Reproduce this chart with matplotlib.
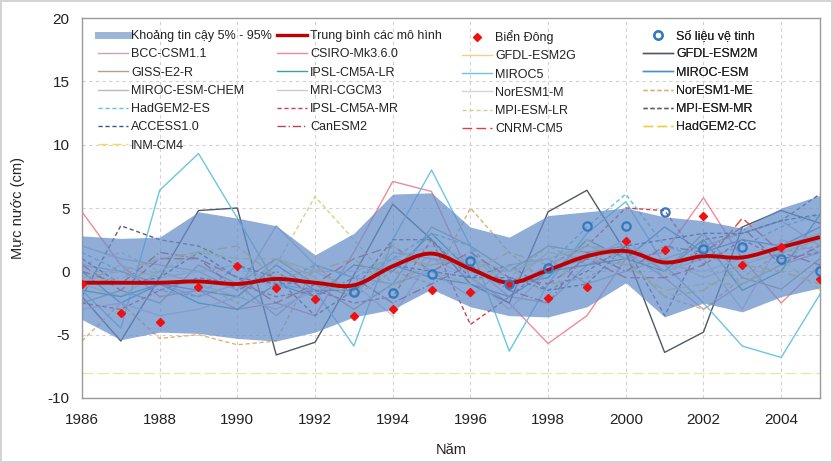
import numpy as np
import matplotlib
matplotlib.use('Agg')
import matplotlib.pyplot as plt
from matplotlib.lines import Line2D
from matplotlib.path import Path
from matplotlib.patches import PathPatch

plt.rcParams['font.family'] = ['Liberation Sans', 'DejaVu Sans']
plt.rcParams['axes.unicode_minus'] = False

years = list(range(1986, 2006))

# 5% - 95% band
band_upper = [2.8, 2.6, 2.7, 4.7, 4.2, 3.6, 1.3, 3.0, 6.1, 6.2,
              3.5, 2.7, 4.4, 4.7, 5.0, 4.3, 4.0, 3.4, 5.0, 6.0]
band_lower = [-3.8, -5.4, -4.8, -4.9, -5.3, -5.5, -4.8, -3.6, -3.0, -1.4,
              -2.8, -3.5, -3.6, -2.8, -0.9, -3.6, -2.5, -3.2, -2.0, -1.3]

# multi-model mean
model_mean = [-0.9, -0.9, -0.9, -0.8, -1.0, -0.6, -0.9, -1.1, 0.4, 1.4,
              0.2, -0.9, 0.1, 1.2, 1.6, 0.7, 1.2, 1.1, 1.9, 2.7]

# observations
bien_dong = [-1.0, -3.3, -4.0, -1.2, 0.4, -1.3, -2.2, -3.5, -3.0, -1.5,
             -1.6, -1.0, -2.1, -1.2, 2.4, 1.7, 4.4, 0.5, 1.9, -0.6]
sat_years = list(range(1993, 2006))
satellite = [-1.6, -1.7, -0.2, 0.8, -1.0, 0.3, 3.6, 3.6, 4.7, 1.8, 1.9, 1.0, 0.0]

# pale line near the bottom of the chart
floor_level = -8.0

model_names = ['BCC-CSM1.1', 'CSIRO-Mk3.6.0', 'GFDL-ESM2G', 'GFDL-ESM2M',
               'GISS-E2-R', 'IPSL-CM5A-LR', 'MIROC5', 'MIROC-ESM',
               'MIROC-ESM-CHEM', 'MRI-CGCM3', 'NorESM1-M', 'NorESM1-ME',
               'HadGEM2-ES', 'IPSL-CM5A-MR', 'MPI-ESM-LR', 'MPI-ESM-MR',
               'ACCESS1.0', 'CanESM2', 'CNRM-CM5', 'HadGEM2-CC', 'INM-CM4']

bcc = [0.5, 0.0, -1.0, -2.0, -1.0, -3.5, -1.0, -2.0, 1.5, 1.0, 0.5, -2.0, -2.5, 0.5, 1.5, -0.5, -3.0, -1.0, 0.5, 1.5]
csiro = [4.7, 0.5, -2.0, -1.5, -3.0, -2.5, -3.5, 1.5, 7.1, 6.3, -0.5, -2.5, -5.7, -3.5, 1.0, 1.5, 5.8, 1.0, -2.5, 0.5]
gfdl_g = [-1.0, -2.0, 0.0, -1.0, -2.0, 1.0, 0.0, -1.5, 1.0, 0.5, 1.0, -1.0, 1.5, 1.0, 0.5, 1.0, -0.5, 0.5, 1.5, 2.5]
gfdl_m = [-2.0, -5.5, -0.5, 4.8, 5.0, -6.6, -5.6, -0.3, 5.3, 2.5, -1.0, -2.5, 4.7, 6.4, 1.5, -6.4, -4.8, 3.5, 4.8, 3.8]
giss = [-2.5, -1.5, -2.5, 0.5, -1.0, 1.0, -1.0, -3.0, -1.0, 3.5, 2.0, 0.0, 2.0, 1.5, 2.0, 0.0, 3.0, -0.5, -1.4, 1.0]
ipsl_lr = [-1.5, -2.0, -1.0, -2.5, -3.0, -1.0, -2.0, 0.5, 0.0, 3.0, 0.0, -1.0, -0.5, 2.5, 1.0, 0.0, 2.5, -1.5, 0.0, 4.5]
miroc5 = [-1.5, -4.5, 6.4, 9.3, 4.2, -1.0, -1.5, -5.9, 2.5, 8.0, 2.0, -6.3, -1.0, 3.0, 5.5, 0.5, -2.5, -5.9, -6.8, -1.8]
miroc_esm = [0.0, -2.5, -1.0, -1.5, -2.0, 0.5, -1.5, -1.5, 0.5, -0.5, -1.0, -2.0, 0.0, 0.5, 1.0, 3.5, 1.5, 2.5, 2.0, 3.5]
miroc_chem = [2.0, 1.0, 0.5, 0.0, -1.5, 3.6, 0.5, -0.5, -1.0, 0.0, -2.0, 0.5, 1.0, -1.0, 0.0, 1.0, 2.0, 3.0, 4.0, 2.0]
mri = [-3.0, -2.5, -3.5, -3.0, -2.0, -3.0, -1.5, -1.0, -3.5, 1.0, -0.5, -3.0, 0.0, 1.0, 2.5, 0.0, 1.0, -3.0, 2.5, 1.5]
noresm_m = [-1.0, 0.5, -0.5, 0.0, 0.5, -1.5, 0.0, 0.0, 1.0, 2.0, 1.0, 0.0, 1.0, 2.0, 1.5, 0.5, 0.0, 1.0, 2.0, 3.0]
noresm_me = [-5.5, -2.5, -5.3, -5.0, -5.8, -5.5, 0.5, -2.0, 0.0, -1.0, 5.0, 1.5, -1.0, -0.5, 1.0, -2.0, -3.0, -0.5, 1.5, 2.0]
hadgem_es = [1.5, 0.0, -1.5, -2.0, 0.5, -1.0, 0.5, -0.5, 1.0, 3.0, 2.0, -1.5, 0.5, 3.5, 6.1, 2.0, 1.0, 2.0, 3.5, 4.5]
ipsl_mr = [-2.5, -3.0, -1.5, -0.5, -1.0, -2.0, -1.5, -2.5, -2.0, 2.5, -4.2, -2.0, 0.5, 2.0, 5.0, 4.8, 0.5, 2.5, 1.0, 1.5]
mpi_lr = [0.5, 1.5, 0.0, -1.0, -2.5, 0.5, 5.9, 2.5, -1.0, 0.5, 1.0, -0.5, 2.0, 0.5, 2.5, -0.5, 2.0, -1.0, 0.5, 3.0]
mpi_mr = [-2.0, 3.6, 2.5, 2.0, 0.5, -0.5, -3.5, -1.5, 2.5, 2.5, -0.5, 0.5, -1.5, 0.0, 2.0, -3.5, 2.5, 3.0, 4.0, 6.1]
access = [1.0, -1.0, -0.5, 1.5, -0.5, -1.0, -0.8, -1.5, 0.5, 0.0, -0.5, -0.5, -1.5, -1.0, 2.0, 2.5, 3.0, 3.0, 4.0, 4.5]
canesm = [0.0, -1.0, 1.5, 1.0, -1.5, 0.0, -2.0, -0.5, -2.5, -1.0, 0.5, -1.5, -2.5, 1.5, 0.0, 2.0, 1.5, 3.5, 0.5, 2.0]
cnrm = [0.5, -1.5, 1.0, 1.0, -0.5, -2.5, -1.0, 1.0, 2.0, 0.0, 1.5, -0.5, -1.0, 1.0, -0.5, -0.5, 0.5, 4.2, 1.5, 0.5]
hadgem_cc = [-0.5, 0.0, 1.0, 1.5, 2.0, -0.5, 0.0, 1.0, -1.5, 1.5, 0.0, 1.5, 0.5, 2.0, 1.0, -2.0, -1.5, 0.5, 0.0, -1.0]
inm = [-1.0, -0.5, 0.0, 1.5, 1.0, 1.0, -0.5, -2.0, 2.0, 0.0, -1.0, 0.5, -2.0, 2.5, 0.5, -1.5, -1.0, -1.0, 1.0, -1.5]

model_values = [bcc, csiro, gfdl_g, gfdl_m, giss, ipsl_lr, miroc5, miroc_esm,
                miroc_chem, mri, noresm_m, noresm_me, hadgem_es, ipsl_mr,
                mpi_lr, mpi_mr, access, canesm, cnrm, hadgem_cc, inm]

model_styles = [
    ('#c9a3bd', '-'), ('#f08a9a', '-'), ('#f2cf8a', '-'), ('#4f5866', '-'),
    ('#a9a58e', '-'), ('#3d9f9f', '-'), ('#6cc5df', '-'), ('#4a8fc6', '-'),
    ('#b8b8c4', '-'), ('#cfc4d8', '-'), ('#d6d6d6', '-'), ('#e0b070', (0, (3, 2))),
    ('#5ec0e2', (0, (3, 2))), ('#cc3d52', (0, (3, 2))), ('#c6d88e', (0, (3, 2))),
    ('#5e5e70', (0, (3, 2))), ('#34589a', (0, (3, 2))), ('#b04658', (0, (6, 2, 1, 2))),
    ('#e2403e', (0, (7, 3))), ('#f0cf3c', (0, (7, 3))), ('#efe05a', (0, (7, 3))),
]

band_color = '#668eca'
mean_color = '#c00000'


def smooth_path(xs, ys):
    """Catmull-Rom style bezier through the points (like a smoothed Excel line)."""
    n = len(xs)
    verts = [(xs[0], ys[0])]
    codes = [Path.MOVETO]
    for i in range(n - 1):
        p0 = max(i - 1, 0)
        p3 = min(i + 2, n - 1)
        c1 = (xs[i] + (xs[i + 1] - xs[p0]) / 6.0, ys[i] + (ys[i + 1] - ys[p0]) / 6.0)
        c2 = (xs[i + 1] - (xs[p3] - xs[i]) / 6.0, ys[i + 1] - (ys[p3] - ys[i]) / 6.0)
        verts += [c1, c2, (xs[i + 1], ys[i + 1])]
        codes += [Path.CURVE4] * 3
    return Path(verts, codes)


fig = plt.figure(figsize=(8.33, 4.63), dpi=100)
fig.patch.set_edgecolor('#d4d4d4')
fig.patch.set_linewidth(1.5)
ax = fig.add_axes([0.0984, 0.1404, 0.886, 0.8207])

handles = {}
for name, vals, (col, ls) in zip(model_names, model_values, model_styles):
    ln, = ax.plot(years, vals, color=col, linestyle=ls, linewidth=1.0, zorder=2)
    handles[name] = ln

ax.axhline(floor_level, color='#f3e3a6', linewidth=1.0, linestyle=(0, (8, 3)), zorder=2)

ax.fill_between(years, band_lower, band_upper, color=band_color, alpha=0.72,
                linewidth=0, zorder=3)

ax.add_patch(PathPatch(smooth_path(years, model_mean), fill=False,
                       edgecolor=mean_color, linewidth=2.8, zorder=4))

ax.plot(years, bien_dong, linestyle='none', marker='D', markersize=4.5,
        color='#f01010', zorder=5)
ax.plot(sat_years, satellite, linestyle='none', marker='o', markersize=6,
        markerfacecolor='none', markeredgecolor='#2f7ac0', markeredgewidth=1.6,
        zorder=6)

ax.set_xlim(1986, 2005)
ax.set_ylim(-10, 20)
ax.set_xticks(range(1986, 2005, 2))
ax.set_yticks(range(-10, 21, 5))
ax.tick_params(axis='both', length=0, labelsize=11, colors='#222222')
ax.tick_params(axis='x', pad=11)
ax.tick_params(axis='y', pad=9)
ax.grid(True, color='#d2d2d2', linestyle=(0, (3, 3)), linewidth=0.8)
ax.set_axisbelow(True)
for sp in ax.spines.values():
    sp.set_color('#9a9a9a')
    sp.set_linewidth(1.0)

ax.set_ylabel('Mực nước (cm)', fontsize=10.5, color='#222222')
ax.yaxis.set_label_coords(-0.077, 0.5)
ax.set_xlabel('Năm', fontsize=10.5, color='#222222')
ax.xaxis.set_label_coords(0.5, -0.118)

# legend proxies
band_h = Line2D([], [], color='#9cb5d8', linewidth=5)
mean_h = Line2D([], [], color=mean_color, linewidth=2.4)
bd_h = Line2D([], [], linestyle='none', marker='D', markersize=4.5, color='#f01010')
sat_h = Line2D([], [], linestyle='none', marker='o', markersize=6,
               markerfacecolor='none', markeredgecolor='#2f7ac0', markeredgewidth=1.6)

columns = [
    [(band_h, 'Khoảng tin cậy 5% - 95%'), 'BCC-CSM1.1', 'GISS-E2-R', 'MIROC-ESM-CHEM',
     'HadGEM2-ES', 'ACCESS1.0', 'INM-CM4'],
    [(mean_h, 'Trung bình các mô hình'), 'CSIRO-Mk3.6.0', 'IPSL-CM5A-LR', 'MRI-CGCM3',
     'IPSL-CM5A-MR', 'CanESM2'],
    [(bd_h, 'Biển Đông'), 'GFDL-ESM2G', 'MIROC5', 'NorESM1-M', 'MPI-ESM-LR', 'CNRM-CM5'],
    [(sat_h, 'Số liệu vệ tinh'), 'GFDL-ESM2M', 'MIROC-ESM', 'NorESM1-ME', 'MPI-ESM-MR',
     'HadGEM2-CC'],
]
col_x = [0.0217, 0.264, 0.515, 0.760]

for cx, entries in zip(col_x, columns):
    hs, ls = [], []
    for e in entries:
        if isinstance(e, tuple):
            hs.append(e[0])
            ls.append(e[1])
        else:
            hs.append(handles[e])
            ls.append(e)
    leg = ax.legend(hs, ls, loc='upper left', bbox_to_anchor=(cx, 0.968),
                    frameon=False, fontsize=9, handlelength=2.4, handletextpad=0.25,
                    borderpad=0, borderaxespad=0, labelspacing=0.5, numpoints=1)
    for t in leg.get_texts():
        t.set_color('#222222')
    ax.add_artist(leg)

fig.savefig('out.png', dpi=100)
